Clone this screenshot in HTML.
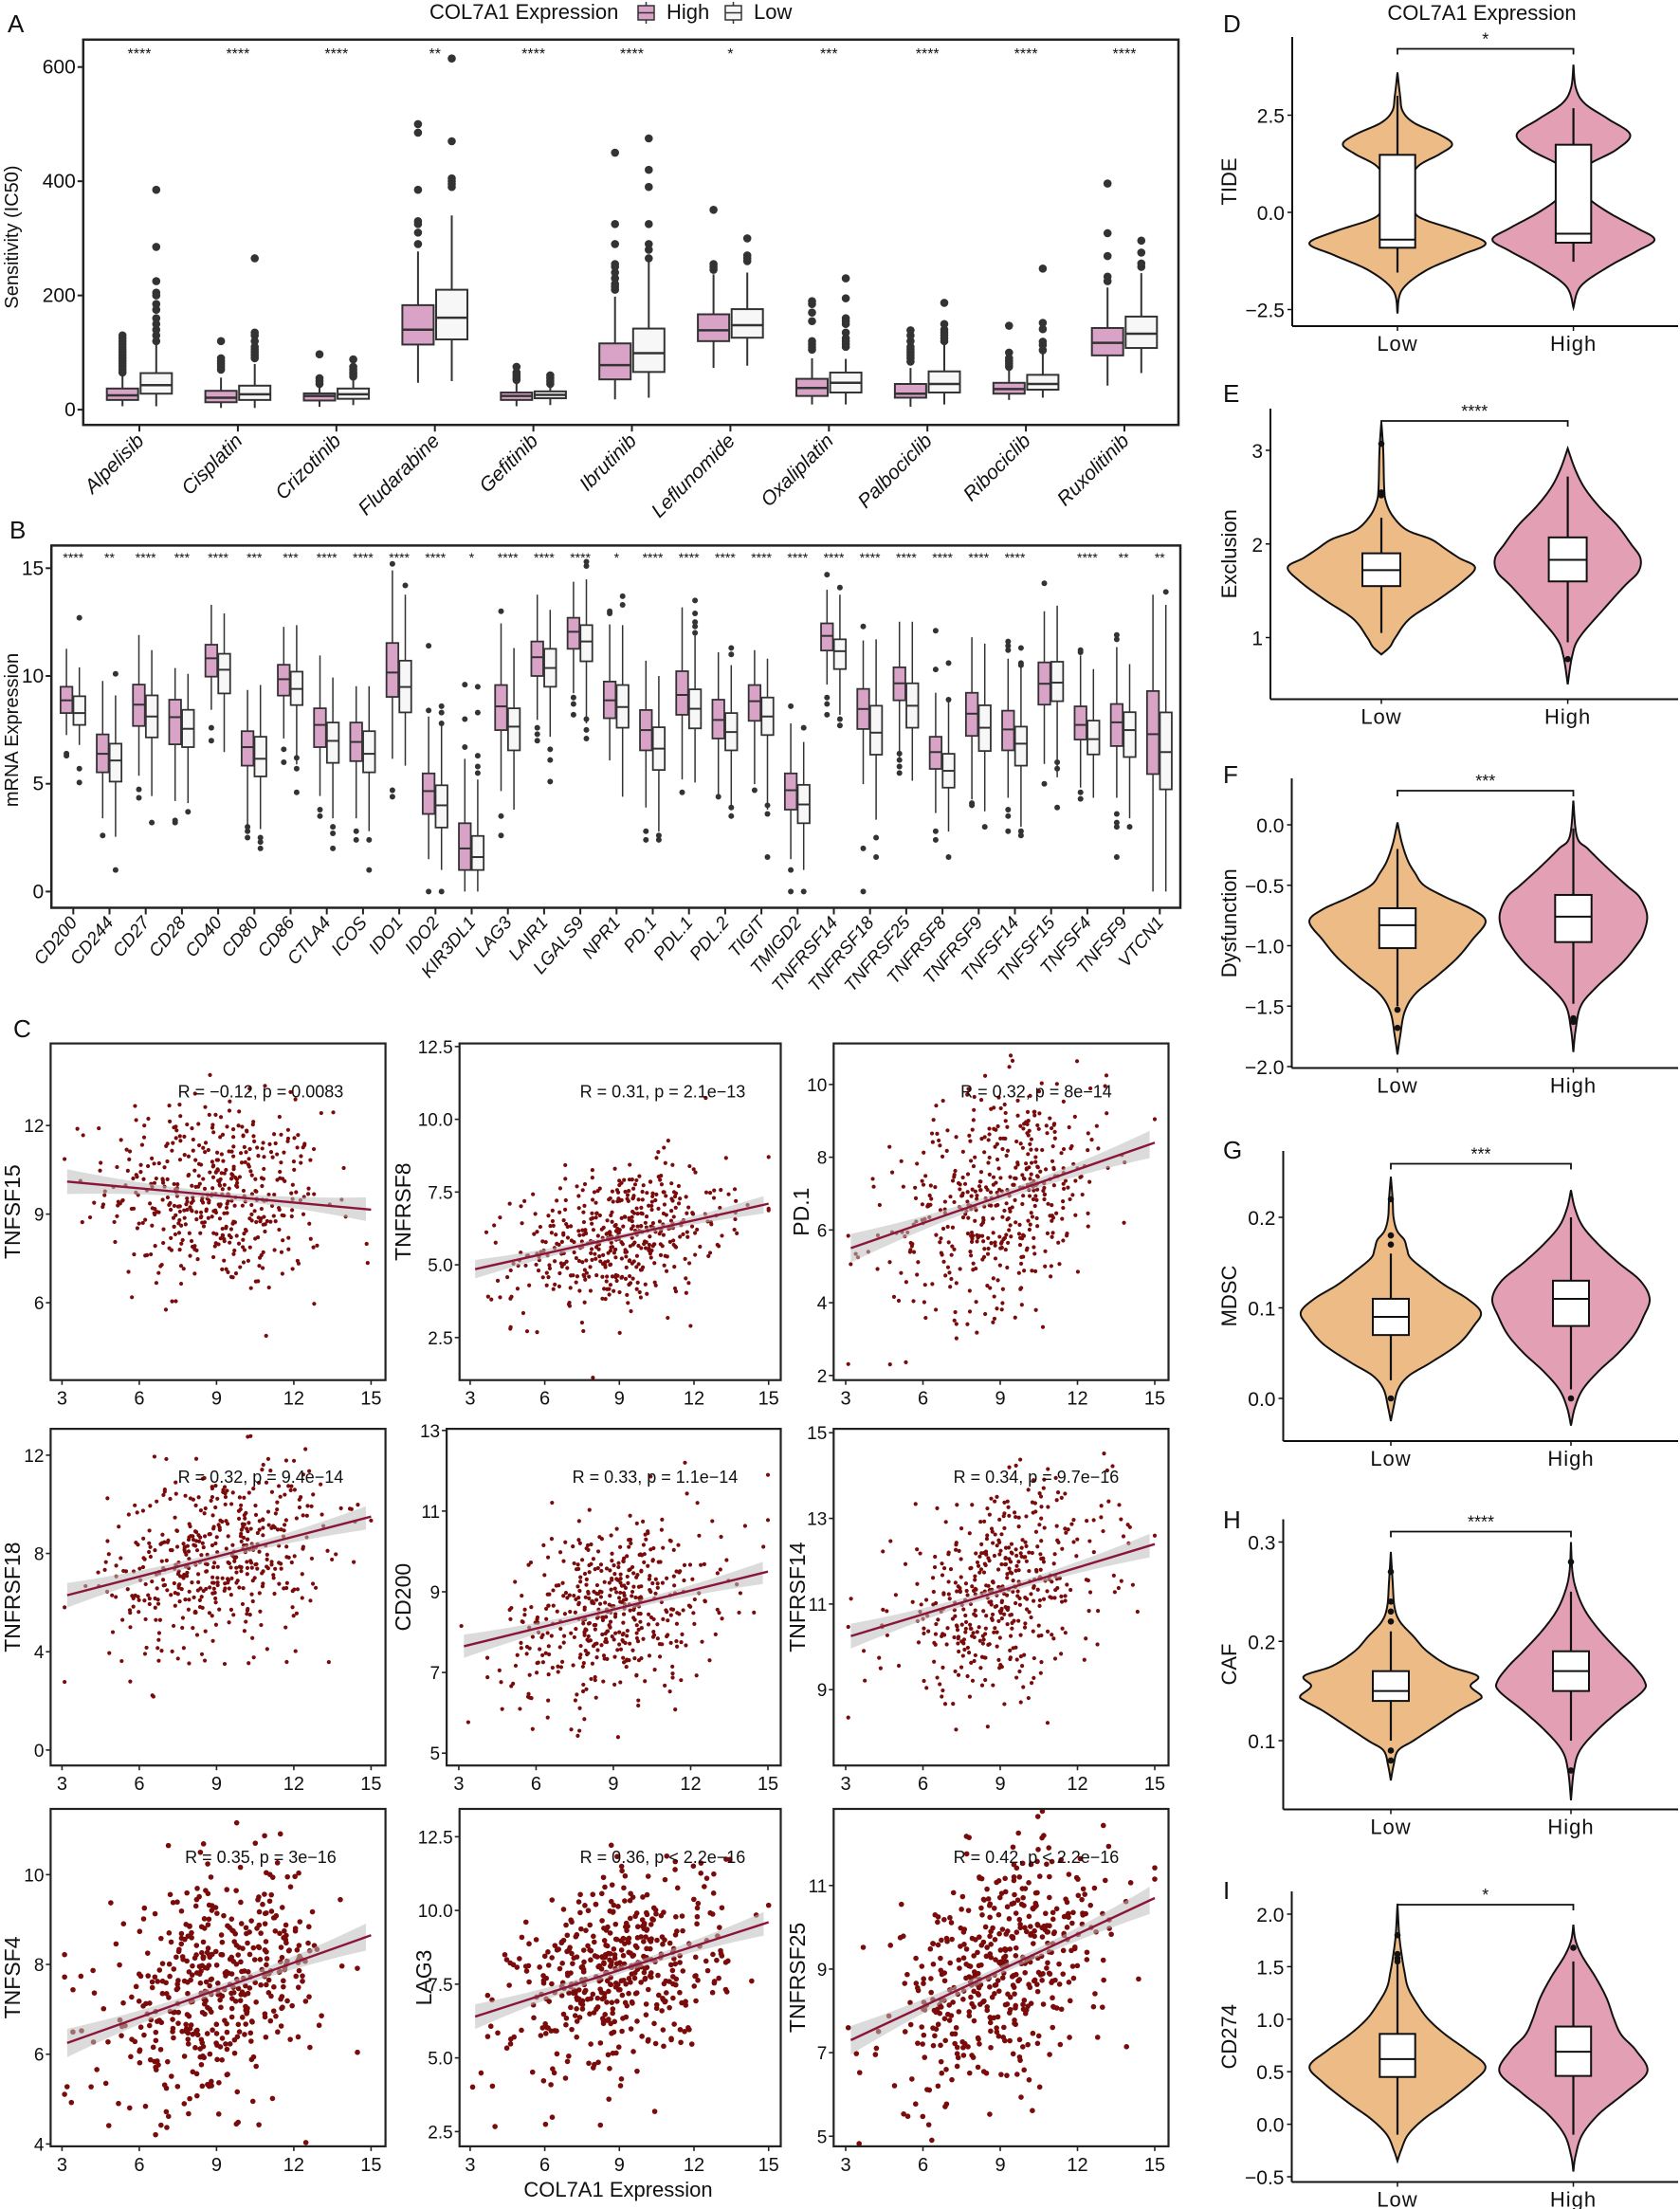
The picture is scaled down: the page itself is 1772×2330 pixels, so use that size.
<!DOCTYPE html>
<html><head><meta charset="utf-8">
<style>
html,body{margin:0;padding:0;background:#fff;}
svg{display:block;}
text{font-family:"Liberation Sans",sans-serif;fill:#111;}
.nar{font-family:"Liberation Sans Narrow","Liberation Sans",sans-serif;}
</style></head>
<body>
<svg id="fig" xmlns="http://www.w3.org/2000/svg" width="1772" height="2330" viewBox="0 0 1772 2330">
<rect x="0" y="0" width="1772" height="2330" fill="#fff"/>
</svg>
<script>
// ---------- Panel A data ----------
const drugNames=['Alpelisib','Cisplatin','Crizotinib','Fludarabine','Gefitinib','Ibrutinib','Leflunomide','Oxaliplatin','Palbociclib','Ribociclib','Ruxolitinib'];
const drugStars=['****','****','****','**','****','****','*','***','****','****','****'];
const drugHigh=[[6,17,25,37,60],[3,13,21,33,56],[5,16,24,28.5,41],[47,114,140,183,277],[6,17,24,30,47],[18,53,78,116,198],[73,120,139,167,237],[9,24,38,54,90],[5,21,28,45,73],[17,28,36,47,73],[42,95,117,143,214]];
const drugHighOut=[[65,70,75,80,85,90,95,100,105,110,115,120,125,130],[70,75,80,85,90,120],[45,50,55,97],[290,310,325,330,385,485,500],[52,55,60,65,75],[210,215,220,230,240,250,255,290,325,450],[245,250,255,350],[105,110,115,120,155,170,185,190],[84,90,95,100,105,110,120,130,139],[75,80,85,90,100,147],[225,233,269,309,396]];
const drugLow=[[6,28,43,64,113],[3,17,27,42,80],[8,19,27,37,53],[50,123,161,210,340],[8,20,26,32,41],[21,66,99,142,260],[77,126,148,176,240],[9,30,47,65,89],[9,30,45,67,117],[21,35,45,61,98],[64,108,133,163,239]];
const drugLowOut=[[120,130,140,150,160,175,185,200,205,225,285,385],[90,95,100,105,110,120,130,135,265],[58,62,65,70,75,88],[390,395,400,405,470,615],[45,50,55,60],[265,280,290,325,390,420,475],[260,265,270,300],[110,115,120,125,135,150,155,160,195,230],[120,125,130,135,140,150,187],[104,113,119,141,152,247],[250,256,275,296]];
const aTicks=[0,200,400,600];

// ---------- Panel B data ----------
const geneNames=['CD200','CD244','CD27','CD28','CD40','CD80','CD86','CTLA4','ICOS','IDO1','IDO2','KIR3DL1','LAG3','LAIR1','LGALS9','NPR1','PD.1','PDL.1','PDL.2','TIGIT','TMIGD2','TNFRSF14','TNFRSF18','TNFRSF25','TNFRSF8','TNFRSF9','TNFSF14','TNFSF15','TNFSF4','TNFSF9','VTCN1'];
const geneStars=['****','**','****','***','****','***','***','****','****','****','****','*','****','****','****','*','****','****','****','****','****','****','****','****','****','****','****','','****','**','**'];
const geneHigh=[[7.26,8.28,8.87,9.5,11.26],[3.4,5.53,6.39,7.29,9.77],[5.37,7.68,8.67,9.6,11.9],[4.2,6.83,8.09,8.9,10.37],[8.43,9.97,10.82,11.45,13.3],[3.1,5.84,6.7,7.44,9.35],[7.1,9.09,9.85,10.52,12.28],[4.43,6.7,7.73,8.5,10.95],[3.4,6.05,6.94,7.84,9.53],[6.16,9.03,10.16,11.53,14.9],[1.5,3.6,4.66,5.48,8.12],[0,1,2,3.17,6.16],[4.66,7.49,8.59,9.58,12.44],[7.96,10,10.87,11.6,13.77],[9.2,11.26,12.05,12.7,14.37],[6.08,8.04,8.87,9.74,12.39],[3.9,6.55,7.49,8.42,10.71],[5.2,8.2,9.12,10.22,13.18],[4.5,7.1,7.96,8.9,11.1],[4.98,7.92,8.83,9.58,11.2],[1.5,3.8,4.7,5.48,7.8],[9.6,11.18,11.86,12.44,14.0],[4.98,7.54,8.47,9.4,11.65],[6.24,8.87,9.66,10.4,12.52],[3.64,5.69,6.47,7.18,9.22],[4.27,7.22,8.25,9.22,11.8],[4.35,6.55,7.52,8.39,10.8],[5.92,8.67,9.64,10.63,13.0],[4.82,7.05,7.73,8.59,10.95],[4.35,6.75,7.85,8.7,11.34],[0,5.45,7.3,9.3,13.77]];
const geneHighOut=[[6.4,6.3],[2.6],[4.74,4.35],[3.3,3.2],[7.6,7.0],[3.0,2.8,2.5],[6.6,6.0],[3.8,3.5],[2.8,2.4],[15.2,4.7,4.4],[8.4,11.4,0],[6.7,8.0,9.6],[13.0,3.5,2.6],[7.6,7.3,7.0],[9.0,8.7,8.2],[13.0,12.9],[2.8,2.4],[4.6],[4.4],[4.7],[8.6,1.0,0],[14.7,9.0,8.7,8.2],[12.3,2.0,0],[6.4,6.1,5.8,5.5],[12.1,10.3,2.8,2.4],[4.1,4.0],[11.6,11.4,11.2,3.8,3.5,2.8],[14.3,5.0],[11.2,11.1,4.6,4.3],[11.9,11.7,3.6,3.2,3.0,1.6],[]];
const geneLow=[[6.8,7.73,8.28,9.06,10.4],[2.54,5.1,6.08,6.86,9.1],[4.43,7.15,8.12,9.1,11.2],[4.1,6.7,7.55,8.43,10.1],[6.47,9.19,10.29,11.03,12.9],[2.9,5.34,6.16,7.18,9.58],[5.9,8.65,9.4,10.2,12.36],[3.4,5.97,6.99,7.84,9.93],[2.8,5.53,6.39,7.44,9.53],[5.84,8.31,9.49,10.71,13.77],[1.0,2.97,4.0,4.93,7.8],[0,1,1.6,2.58,5.2],[3.8,6.55,7.65,8.5,11.3],[7.18,9.5,10.37,11.26,13.07],[7.8,10.68,11.6,12.36,14.48],[4.4,7.6,8.56,9.58,12.36],[2.78,5.64,6.63,7.62,10.0],[5.06,7.57,8.48,9.38,11.9],[4.0,6.55,7.4,8.28,10.5],[3.8,7.26,8.12,9.0,10.8],[1.0,3.17,4.04,4.95,6.94],[8.2,10.32,11.15,11.7,13.77],[3.33,6.35,7.37,8.62,11.7],[5.14,7.6,8.62,9.66,12.52],[2.78,4.82,5.6,6.39,8.98],[3.72,6.52,7.6,8.64,11.5],[3.0,5.84,6.86,7.65,10.48],[5.3,8.83,9.69,10.66,13.26],[4.35,6.36,7.07,7.93,10.32],[3.4,6.24,7.49,8.32,10.55],[0,4.74,6.47,8.31,13.3]];
const geneLowOut=[[5.7,5.06,12.7],[1.0,10.1],[3.2],[3.7],[],[2.5,2.3,2.0],[6.2,5.7,4.6],[3.0,2.7,2.0],[2.4,1.0],[14.2],[8.6,8.3,7.8,0],[5.5,5.8,6.3,8.3,9.5],[],[6.6,6.1,5.1],[15.3,15.1,8.0,7.5,7.1],[13.7,13.3],[2.6,2.4],[13.5,12.9,12.5,12.3,12.0],[11.3,11.0,3.9,3.5],[4.0,3.6,1.6],[7.6,0],[14.1,8.0,7.7],[2.5,1.6],[],[10.6,8.9,1.6],[3.0],[11.3,10.6,10.5,2.8,2.6],[6.0,5.7,3.9],[],[3.0],[13.9]];
const bTicks=[0,5,10,15];

// ---------- Panel C data ----------
const scatGenes=['TNFSF15','TNFRSF8','PD.1','TNFRSF18','CD200','TNFRSF14','TNFSF4','LAG3','TNFRSF25'];
const scatR=['R = \u22120.12, p = 0.0083','R = 0.31, p = 2.1e\u221213','R = 0.32, p = 8e\u221214','R = 0.32, p = 9.4e\u221214','R = 0.33, p = 1.1e\u221214','R = 0.34, p = 9.7e\u221216','R = 0.35, p = 3e\u221216','R = 0.36, p < 2.2e\u221216','R = 0.42, p < 2.2e\u221216'];
const fitStart=[10.1,4.85,5.5,6.3,7.65,10.25,6.25,6.4,7.3];   // fitted value at x=3.2
const fitEnd=[9.15,7.1,8.4,9.5,9.5,12.4,8.65,9.6,10.7];      // fitted value at x=15
const scatSpread=[1.6,1.2,1.5,1.9,1.1,1.1,1.2,1.6,1.3];
const scatYTicks=[[6,9,12],[2.5,5.0,7.5,10.0,12.5],[2,4,6,8,10],[0,4,8,12],[5,7,9,11,13],[9,11,13,15],[4,6,8,10],[2.5,5.0,7.5,10.0,12.5],[5,7,9,11]];
const scatXTicks=[3,6,9,12,15];

// ---------- Panels D-I data ----------
const vioNames=['TIDE','Exclusion','Dysfunction','MDSC','CAF','CD274'];
const vioStars=['*','****','***','***','****','*'];
const vioLowShape=[
 [[-2.6,0],[-2.0,0.05],[-1.5,0.32],[-1.1,0.72],[-0.8,1.0],[-0.5,0.72],[-0.2,0.32],[0,0.19],[0.4,0.11],[0.8,0.13],[1.2,0.24],[1.5,0.48],[1.75,0.62],[2.0,0.48],[2.3,0.19],[2.6,0.06],[3.0,0.03],[3.6,0]],
 [[0.82,0],[0.9,0.09],[1.0,0.15],[1.2,0.3],[1.4,0.6],[1.6,0.87],[1.75,1.0],[1.85,0.83],[1.95,0.68],[2.05,0.53],[2.15,0.27],[2.3,0.12],[2.45,0.05],[2.6,0.03],[3.0,0.02],[3.3,0]],
 [[-1.9,0],[-1.75,0.03],[-1.55,0.08],[-1.4,0.2],[-1.25,0.45],[-1.1,0.68],[-0.95,0.85],[-0.8,1.0],[-0.7,0.85],[-0.6,0.55],[-0.5,0.3],[-0.4,0.2],[-0.3,0.12],[-0.15,0.05],[0.02,0]],
 [[-0.025,0],[-0.01,0.03],[0.01,0.08],[0.025,0.2],[0.04,0.45],[0.06,0.75],[0.08,0.92],[0.095,1.0],[0.11,0.85],[0.125,0.6],[0.14,0.4],[0.155,0.22],[0.165,0.18],[0.175,0.15],[0.185,0.07],[0.2,0.03],[0.22,0.02],[0.245,0]],
 [[0.06,0],[0.075,0.03],[0.09,0.08],[0.1,0.25],[0.115,0.5],[0.13,0.75],[0.14,0.95],[0.145,1.0],[0.155,0.88],[0.165,0.96],[0.175,0.65],[0.19,0.4],[0.205,0.25],[0.22,0.1],[0.235,0.04],[0.26,0.02],[0.29,0]],
 [[-0.35,0],[-0.25,0.04],[-0.1,0.12],[0.05,0.3],[0.2,0.55],[0.4,0.85],[0.55,1.0],[0.7,0.8],[0.85,0.55],[1.0,0.35],[1.15,0.22],[1.3,0.12],[1.45,0.08],[1.6,0.05],[1.8,0.02],[2.1,0]]
];
const vioHighShape=[
 [[-2.45,0],[-1.9,0.09],[-1.4,0.43],[-1.0,0.78],[-0.7,1.0],[-0.4,0.78],[0,0.43],[0.4,0.17],[0.8,0.1],[1.2,0.17],[1.6,0.52],[2.0,0.7],[2.4,0.43],[2.8,0.14],[3.2,0.03],[3.8,0]],
 [[0.5,0],[0.8,0.06],[1.0,0.16],[1.3,0.49],[1.55,0.78],[1.7,0.97],[1.85,1.0],[2.0,0.87],[2.2,0.68],[2.4,0.43],[2.6,0.23],[2.8,0.1],[3.02,0]],
 [[-1.88,0],[-1.7,0.03],[-1.5,0.1],[-1.35,0.3],[-1.15,0.65],[-1.0,0.85],[-0.9,0.95],[-0.75,1.0],[-0.6,0.9],[-0.5,0.72],[-0.35,0.45],[-0.2,0.2],[-0.1,0.05],[0.2,0]],
 [[-0.03,0],[-0.01,0.05],[0.01,0.15],[0.03,0.35],[0.05,0.6],[0.07,0.8],[0.09,0.92],[0.11,1.0],[0.13,0.88],[0.15,0.6],[0.17,0.35],[0.19,0.15],[0.21,0.05],[0.23,0]],
 [[0.04,0],[0.07,0.04],[0.09,0.12],[0.11,0.35],[0.13,0.65],[0.15,0.98],[0.16,1.0],[0.175,0.85],[0.19,0.65],[0.21,0.4],[0.23,0.2],[0.25,0.08],[0.27,0.02],[0.3,0]],
 [[-0.45,0],[-0.3,0.03],[-0.1,0.12],[0.1,0.35],[0.3,0.7],[0.5,1.0],[0.7,0.85],[0.85,0.65],[1.0,0.55],[1.2,0.45],[1.4,0.3],[1.6,0.12],[1.75,0.03],[1.9,0]]
];
const vioLowBox=[[-1.55,-0.91,-0.70,1.48,3.0],[1.05,1.55,1.72,1.9,2.28],[-1.5,-1.02,-0.83,-0.69,-0.2],[0.02,0.07,0.09,0.11,0.16],[0.1,0.14,0.15,0.17,0.21],[-0.1,0.45,0.62,0.86,1.52]];
const vioHighBox=[[-1.27,-0.78,-0.55,1.74,2.68],[0.95,1.6,1.83,2.07,2.72],[-1.48,-0.97,-0.76,-0.58,-0.03],[0.01,0.08,0.11,0.13,0.2],[0.1,0.15,0.17,0.19,0.25],[-0.1,0.46,0.69,0.93,1.55]];
const vioLowOut=[[],[2.52,2.55,3.07],[-1.53,-1.68],[0.0,0.17,0.18,0.22],[0.09,0.08,0.22,0.23,0.24,0.27],[1.55,1.58,1.62,1.8]];
const vioHighOut=[[],[0.77],[-1.6,-1.63],[0.0],[0.07,0.28],[1.68]];
const vioTicks=[[-2.5,0,2.5],[1,2,3],[-2,-1.5,-1,-0.5,0],[0,0.1,0.2],[0.1,0.2,0.3],[-0.5,0,0.5,1,1.5,2]];

// ---------- helpers ----------
const NS='http://www.w3.org/2000/svg';
const svg=document.getElementById('fig');
function mk(tag,attrs,parent,name){
  const el=document.createElementNS(NS,tag);
  for(const k in attrs) el.setAttribute(k,attrs[k]);
  
  
  (parent||svg).appendChild(el);
  return el;
}
function txt(s,attrs,parent,name){const t=mk('text',attrs,parent,name);t.textContent=s;return t;}
function fmtMinus(s){return String(s).replace('-','\u2212');}

// ---------- Panel A ----------
(function(){
  const g=mk('g',{},svg,'panel-a');
  const L=87.8,R=1243,T=41.8,B=448.2;
  const yA=v=>432.1-v*(361.4/600);
  const xA=i=>147+i*103.9;
  txt('A',{x:8,y:34,'font-size':26},g,'panel-a-label');
  const lg=mk('g',{},g,'legend');
  txt('COL7A1 Expression',{x:453,y:20,'font-size':22,class:'nar'},lg,'legend-title');
  mk('line',{x1:681.5,y1:2,x2:681.5,y2:25,stroke:'#333','stroke-width':1.5},lg,'legend-high-whisker');
  mk('rect',{x:673,y:6,width:17,height:15,fill:'#D9A3C8',stroke:'#333','stroke-width':1.5},lg,'legend-high-key');
  mk('line',{x1:673,y1:13.5,x2:690,y2:13.5,stroke:'#333','stroke-width':1.5},lg,'legend-high-median');
  txt('High',{x:703,y:20,'font-size':22,class:'nar'},lg,'legend-high-label');
  mk('line',{x1:773.5,y1:2,x2:773.5,y2:25,stroke:'#333','stroke-width':1.5},lg,'legend-low-whisker');
  mk('rect',{x:765,y:6,width:17,height:15,fill:'#F7F7F7',stroke:'#333','stroke-width':1.5},lg,'legend-low-key');
  mk('line',{x1:765,y1:13.5,x2:782,y2:13.5,stroke:'#333','stroke-width':1.5},lg,'legend-low-median');
  txt('Low',{x:795,y:20,'font-size':22,class:'nar'},lg,'legend-low-label');
  mk('rect',{x:L,y:T,width:R-L,height:B-T,fill:'none',stroke:'#222','stroke-width':2.5},g,'plot-a-frame');
  aTicks.forEach(v=>{
    mk('line',{x1:L-6,y1:yA(v),x2:L,y2:yA(v),stroke:'#222','stroke-width':2},g,'y-tick');
    txt(String(v),{x:L-8,y:yA(v)+7,'font-size':21,'text-anchor':'end',class:'nar'},g,'y-tick-label');
  });
  txt('Sensitivity (IC50)',{x:0,y:0,'font-size':20,'text-anchor':'middle',transform:'translate(19,250) rotate(-90)'},g,'y-axis-title');
  drugNames.forEach((nm,i)=>{
    const cx=xA(i);
    mk('line',{x1:cx,y1:B,x2:cx,y2:B+7,stroke:'#222','stroke-width':2},g,'x-tick');
    txt(nm,{x:0,y:0,'font-size':21,'font-style':'italic','text-anchor':'end',transform:`translate(${cx+6},${B+18}) rotate(-45)`},g,'x-tick-label');
    txt(drugStars[i],{x:cx,y:62,'font-size':16,'text-anchor':'middle'},g,'significance-stars');
    [[drugHigh[i],drugHighOut[i],-17.8,'#D9A3C8','high'],[drugLow[i],drugLowOut[i],17.8,'#F7F7F7','low']].forEach(([s,o,off,fill,k])=>{
      const x=cx+off,w=33;
      mk('line',{x1:x,y1:yA(s[0]),x2:x,y2:yA(s[4]),stroke:'#333','stroke-width':2},g,'whisker-'+k);
      mk('rect',{x:x-w/2,y:yA(s[3]),width:w,height:yA(s[1])-yA(s[3]),fill:fill,stroke:'#333','stroke-width':2},g,'box-'+k);
      mk('line',{x1:x-w/2,y1:yA(s[2]),x2:x+w/2,y2:yA(s[2]),stroke:'#333','stroke-width':2.5},g,'median-'+k);
      o.forEach(v=>mk('circle',{cx:x,cy:yA(v),r:4.3,fill:'#333'},g,'outlier-'+k));
    });
  });
})();

// ---------- Panel B ----------
(function(){
  const g=mk('g',{},svg,'panel-b');
  const L=54.2,R=1245,T=575.4,B=957.5;
  const yB=v=>940.4-v*22.74;
  const xB=i=>77.3+i*38.2;
  txt('B',{x:10,y:568,'font-size':26},g,'panel-b-label');
  mk('rect',{x:L,y:T,width:R-L,height:B-T,fill:'none',stroke:'#222','stroke-width':2.5},g,'plot-b-frame');
  bTicks.forEach(v=>{
    mk('line',{x1:L-6,y1:yB(v),x2:L,y2:yB(v),stroke:'#222','stroke-width':2},g,'y-tick');
    txt(String(v),{x:L-8,y:yB(v)+7,'font-size':21,'text-anchor':'end',class:'nar'},g,'y-tick-label');
  });
  txt('mRNA Expression',{x:0,y:0,'font-size':20,'text-anchor':'middle',transform:'translate(19,770) rotate(-90)'},g,'y-axis-title');
  geneNames.forEach((nm,i)=>{
    const cx=xB(i);
    mk('line',{x1:cx,y1:B,x2:cx,y2:B+7,stroke:'#222','stroke-width':2},g,'x-tick');
    txt(nm,{x:0,y:0,'font-size':19,'font-style':'italic','text-anchor':'end',transform:`translate(${cx+5},${B+16}) rotate(-50)`},g,'x-tick-label');
    txt(geneStars[i],{x:cx,y:593,'font-size':14,'text-anchor':'middle'},g,'significance-stars');
    [[geneHigh[i],geneHighOut[i],-7.2,'#D9A3C8','high'],[geneLow[i],geneLowOut[i],6.4,'#F7F7F7','low']].forEach(([s,o,off,fill,k])=>{
      const x=cx+off,w=12.5;
      mk('line',{x1:x,y1:yB(s[0]),x2:x,y2:yB(s[4]),stroke:'#333','stroke-width':1.5},g,'whisker-'+k);
      mk('rect',{x:x-w/2,y:yB(s[3]),width:w,height:yB(s[1])-yB(s[3]),fill:fill,stroke:'#333','stroke-width':1.8},g,'box-'+k);
      mk('line',{x1:x-w/2,y1:yB(s[2]),x2:x+w/2,y2:yB(s[2]),stroke:'#333','stroke-width':2},g,'median-'+k);
      o.forEach(v=>mk('circle',{cx:x,cy:yB(v),r:3,fill:'#333'},g,'outlier-'+k));
    });
  });
})();

// ---------- Panel C ----------
(function(){
  const g=mk('g',{},svg,'panel-c');
  txt('C',{x:14,y:1094,'font-size':26},g,'panel-c-label');
  const zy=z=>1050+z/1.225;
  const rows=[[1100.6,1455.7],[1507.1,1862.2],[1908,2263.9]];
  const cols=[
    [[53.4,406.6,65.4,391.4],[484.7,823.5,495.9,810.7],[879.3,1232.5,892,1218]],
    [[53.4,406.6,65.4,391.4],[471.1,823.5,483.9,810],[879.3,1232.5,892,1218]],
    [[53.4,406.6,65.4,391.4],[484.7,823.5,495.9,810.7],[879.3,1232.5,892,1218]]];
  const yAnch=[[397,168],[442,66],[491,115],[975,594],[979,562],[897,565],[1484,1136],[1468,1087],[1474,1150]];
  const titleX=[[12,424,844],[12,424,840],[12,446,840]];
  const rTextX=[[275,699,1093],[275,691,1093],[275,699,1093]];
  let seed=12345;
  function rnd(){seed=(seed*1664525+1013904223)%4294967296;return seed/4294967296;}
  function gauss(){let u=rnd()||1e-9,v=rnd();return Math.sqrt(-2*Math.log(u))*Math.cos(2*Math.PI*v);}
  for(let p=0;p<9;p++){
    const r=Math.floor(p/3),c=p%3;
    const [T,B]=rows[r];const [L,R,x3,x15]=cols[r][c];
    const tk=scatYTicks[p];
    const y0=zy(yAnch[p][0]),y1=zy(yAnch[p][1]);
    const v0=tk[0],v1=tk[tk.length-1];
    const ys=v=>y0+(v-v0)*(y1-y0)/(v1-v0);
    const xs=v=>x3+(v-3)*(x15-x3)/12;
    const pg=mk('g',{},g,'scatter-panel-'+scatGenes[p].toLowerCase());
    const cid='clip'+p;
    const cp=mk('clipPath',{id:cid},pg,'clip-region');
    mk('rect',{x:L,y:T,width:R-L,height:B-T},cp,'clip-rect');
    const dots=mk('g',{'clip-path':`url(#${cid})`},pg,'points');
    const rad=r===2?2.8:2.1;
    for(let k=0;k<480;k++){
      let xv=9+2.1*gauss(); xv=Math.max(3.1,Math.min(15,xv));
      const fit=fitStart[p]+(fitEnd[p]-fitStart[p])*(xv-3.2)/11.8;
      const yv=fit+scatSpread[p]*gauss();
      mk('circle',{cx:xs(xv),cy:ys(yv),r:rad,fill:'#7A0B0B'},dots,'point');
    }
    let up=[],dn=[];
    for(let xv=3.2;xv<=15.001;xv+=0.4){
      const fit=fitStart[p]+(fitEnd[p]-fitStart[p])*(xv-3.2)/11.8;
      const hw=(0.1+0.25*Math.pow((xv-9.1)/6,2))*(scatSpread[p]/1.3);
      up.push(xs(xv)+','+ys(fit+hw));dn.unshift(xs(xv)+','+ys(fit-hw));
    }
    mk('polygon',{points:up.concat(dn).join(' '),fill:'#BDBDBD','fill-opacity':0.55},pg,'confidence-band');
    mk('line',{x1:xs(3.2),y1:ys(fitStart[p]),x2:xs(15),y2:ys(fitEnd[p]),stroke:'#8B1538','stroke-width':2.4},pg,'regression-line');
    mk('rect',{x:L,y:T,width:R-L,height:B-T,fill:'none',stroke:'#222','stroke-width':2.2},pg,'plot-frame');
    txt(scatR[p],{x:rTextX[r][c],y:T+57,'font-size':18,'text-anchor':'middle'},pg,'correlation-label');
    tk.forEach(v=>{
      mk('line',{x1:L-5,y1:ys(v),x2:L,y2:ys(v),stroke:'#222','stroke-width':1.6},pg,'y-tick');
      txt(v%1===0&&tk.some(t=>t%1!==0)?v.toFixed(1):String(v),{x:L-7,y:ys(v)+7,'font-size':19,'text-anchor':'end'},pg,'y-tick-label');
    });
    scatXTicks.forEach(v=>{
      mk('line',{x1:xs(v),y1:B,x2:xs(v),y2:B+5,stroke:'#222','stroke-width':1.6},pg,'x-tick');
      txt(String(v),{x:xs(v),y:B+26,'font-size':20,'text-anchor':'middle'},pg,'x-tick-label');
    });
    txt(scatGenes[p],{x:0,y:0,'font-size':23,'text-anchor':'middle',transform:`translate(${titleX[r][c]+9},${(T+B)/2}) rotate(-90)`},pg,'y-axis-title');
  }
  txt('COL7A1 Expression',{x:652,y:2317,'font-size':22,'text-anchor':'middle'},g,'x-axis-title');
})();

// ---------- Panels D-I ----------
(function(){
  const letters=['D','E','F','G','H','I'];
  const lay=[
    {L:1363,T:39,B:344,a:[0,224],b:[2.5,121.5],lo:1474,hi:1659.6,mL:93,mH:85.5,bh:18.7,br:51.5,ly:34,dec:1},
    {L:1340,T:431,B:737.5,a:[1,672.5],b:[3,475],lo:1457,hi:1653.6,mL:98.8,mH:76.6,bh:20,br:444,ly:424,dec:0},
    {L:1362.5,T:821,B:1126.5,a:[-2,1125],b:[0,870],lo:1474,hi:1659.5,mL:93,mH:77.8,bh:19.2,br:834,ly:826,dec:1},
    {L:1353.5,T:1214,B:1520,a:[0,1475],b:[0.2,1284],lo:1467,hi:1657,mL:95,mH:83,bh:19,br:1227.5,ly:1222,dec:1},
    {L:1353.5,T:1602.5,B:1908.5,a:[0.1,1836],b:[0.3,1626.5],lo:1467,hi:1657,mL:95.5,mH:77.5,bh:19,br:1615.5,ly:1612,dec:1},
    {L:1362.5,T:1995,B:2301.5,a:[-0.5,2296],b:[2,2019],lo:1474,hi:1659.5,mL:92.8,mH:78,bh:18.7,br:2009,ly:2003,dec:1}];
  function smooth(pts){
    const out=[];
    for(let i=0;i<pts.length-1;i++){
      const p0=pts[i-1]||pts[i],p1=pts[i],p2=pts[i+1],p3=pts[i+2]||pts[i+1];
      for(let t=0;t<1;t+=0.1){
        const t2=t*t,t3=t2*t;
        const f=(a,b,c,d)=>0.5*((2*b)+(-a+c)*t+(2*a-5*b+4*c-d)*t2+(-a+3*b-3*c+d)*t3);
        out.push([f(p0[0],p1[0],p2[0],p3[0]),Math.max(0,f(p0[1],p1[1],p2[1],p3[1]))]);
      }
    }
    out.push(pts[pts.length-1]);
    return out;
  }
  txt('COL7A1 Expression',{x:1563,y:21,'font-size':22,'text-anchor':'middle'},svg,'violin-legend-title');
  lay.forEach((c,i)=>{
    const g=mk('g',{},svg,'panel-'+letters[i].toLowerCase());
    const ys=v=>c.a[1]+(v-c.a[0])*(c.b[1]-c.a[1])/(c.b[0]-c.a[0]);
    txt(letters[i],{x:1290,y:c.ly,'font-size':26},g,'panel-label');
    [[vioLowShape[i],vioLowBox[i],vioLowOut[i],c.lo,c.mL,'#EDBB86','low'],[vioHighShape[i],vioHighBox[i],vioHighOut[i],c.hi,c.mH,'#E3A0B4','high']].forEach(([sh,bx,ou,cx,mw,fill,k])=>{
      const s=smooth(sh);
      const right=s.map(p=>`${cx+p[1]*mw},${ys(p[0])}`);
      const left=s.slice().reverse().map(p=>`${cx-p[1]*mw},${ys(p[0])}`);
      mk('polygon',{points:right.concat(left).join(' '),fill:fill,stroke:'#111','stroke-width':2},g,'violin-'+k);
      mk('line',{x1:cx,y1:ys(bx[0]),x2:cx,y2:ys(bx[4]),stroke:'#111','stroke-width':2.2},g,'whisker-'+k);
      mk('rect',{x:cx-c.bh,y:ys(bx[3]),width:2*c.bh,height:ys(bx[1])-ys(bx[3]),fill:'#fff',stroke:'#111','stroke-width':2},g,'box-'+k);
      mk('line',{x1:cx-c.bh,y1:ys(bx[2]),x2:cx+c.bh,y2:ys(bx[2]),stroke:'#111','stroke-width':2},g,'median-'+k);
      ou.forEach(v=>mk('circle',{cx:cx,cy:ys(v),r:3.3,fill:'#111'},g,'outlier-'+k));
    });
    mk('line',{x1:c.L,y1:c.T,x2:c.L,y2:c.B,stroke:'#111','stroke-width':2},g,'y-axis');
    mk('line',{x1:c.L,y1:c.B,x2:1770,y2:c.B,stroke:'#111','stroke-width':2},g,'x-axis');
    vioTicks[i].forEach(v=>{
      mk('line',{x1:c.L-5,y1:ys(v),x2:c.L,y2:ys(v),stroke:'#111','stroke-width':1.5},g,'y-tick');
      txt(fmtMinus(v.toFixed(c.dec)),{x:c.L-8,y:ys(v)+8,'font-size':21,'text-anchor':'end'},g,'y-tick-label');
    });
    [['Low',c.lo],['High',c.hi]].forEach(([lab,x])=>{
      mk('line',{x1:x,y1:c.B,x2:x,y2:c.B+5,stroke:'#111','stroke-width':1.5},g,'x-tick');
      txt(lab,{x:x,y:c.B+26,'font-size':22,'text-anchor':'middle','letter-spacing':1},g,'x-tick-label');
    });
    txt(vioNames[i],{x:0,y:0,'font-size':22,'text-anchor':'middle',class:'nar',transform:`translate(1304,${(c.T+c.B)/2}) rotate(-90)`},g,'y-axis-title');
    mk('polyline',{points:`${c.lo},${c.br+6} ${c.lo},${c.br} ${c.hi},${c.br} ${c.hi},${c.br+6}`,fill:'none',stroke:'#111','stroke-width':1.8},g,'significance-bracket');
    txt(vioStars[i],{x:(c.lo+c.hi)/2,y:c.br-4,'font-size':18,'text-anchor':'middle'},g,'significance-stars');
  });
})();
</script>
</body></html>
